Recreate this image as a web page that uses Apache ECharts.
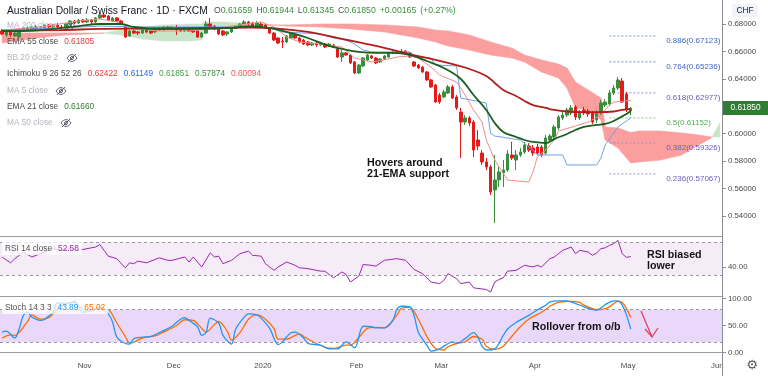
<!DOCTYPE html>
<html lang="en">
<head>
<meta charset="UTF-8">
<title>Australian Dollar / Swiss Franc · 1D · FXCM</title>
<script src="https://cdn.jsdelivr.net/npm/echarts@6.0.0/dist/echarts.min.js"></script>
<style>
  html, body { margin: 0; padding: 0; background: #ffffff; }
  #main { width: 768px; height: 376px; }
</style>
</head>
<body>
<div id="main"></div>
<script>
// daily bars: index 0 = 4 Oct 2019, 148 = 1 May 2020, axis runs on to 169 = 1 Jun 2020
var barCount = 170;
var monthStart = [20, 41, 62, 84, 104, 126, 148, 169];
var monthNames = ['Nov', 'Dec', '2020', 'Feb', 'Mar', 'Apr', 'May', 'Jun'];

var priceTicks = [0.54, 0.56, 0.58, 0.60, 0.62, 0.64, 0.66, 0.68];
var rsiTicks = [40];
var stochTicks = [0, 50, 100];
var rsiBand = [30, 70];
var stochBand = [20, 80];

// open, close, low, high
var candles = [
  [0.6749,0.6727,0.6720,0.6764],[0.6720,0.6742,0.6705,0.6756],[0.6742,0.6720,0.6705,0.6749],[0.6713,0.6734,0.6705,0.6742],
  [0.6705,0.6749,0.6698,0.6756],[0.6749,0.6771,0.6742,0.6778],[0.6771,0.6756,0.6749,0.6785],[0.6756,0.6778,0.6749,0.6785],
  [0.6778,0.6764,0.6756,0.6793],[0.6764,0.6778,0.6756,0.6785],[0.6771,0.6793,0.6764,0.6800],[0.6793,0.6778,0.6771,0.6800],
  [0.6778,0.6793,0.6771,0.6800],[0.6793,0.6778,0.6771,0.6807],[0.6778,0.6771,0.6756,0.6793],[0.6771,0.6800,0.6764,0.6807],
  [0.6800,0.6822,0.6793,0.6829],[0.6822,0.6807,0.6800,0.6829],[0.6807,0.6829,0.6800,0.6836],[0.6829,0.6815,0.6807,0.6836],
  [0.6815,0.6829,0.6807,0.6844],[0.6829,0.6815,0.6800,0.6836],[0.6815,0.6844,0.6807,0.6851],[0.6844,0.6866,0.6836,0.6880],
  [0.6866,0.6851,0.6844,0.6873],[0.6858,0.6829,0.6822,0.6866],[0.6822,0.6844,0.6815,0.6851],[0.6844,0.6822,0.6815,0.6851],
  [0.6822,0.6800,0.6793,0.6829],[0.6793,0.6705,0.6698,0.6800],[0.6713,0.6749,0.6705,0.6756],[0.6749,0.6734,0.6727,0.6756],
  [0.6742,0.6734,0.6720,0.6749],[0.6734,0.6764,0.6727,0.6771],[0.6764,0.6742,0.6734,0.6771],[0.6749,0.6734,0.6727,0.6756],
  [0.6742,0.6764,0.6734,0.6771],[0.6764,0.6756,0.6749,0.6778],[0.6756,0.6778,0.6749,0.6785],[0.6778,0.6764,0.6756,0.6785],
  [0.6764,0.6771,0.6756,0.6785],[0.6771,0.6756,0.6720,0.6793],[0.6764,0.6749,0.6742,0.6771],[0.6749,0.6771,0.6742,0.6778],
  [0.6771,0.6749,0.6742,0.6778],[0.6756,0.6742,0.6734,0.6764],[0.6749,0.6705,0.6698,0.6756],[0.6705,0.6734,0.6698,0.6742],
  [0.6734,0.6800,0.6727,0.6822],[0.6800,0.6778,0.6771,0.6844],[0.6785,0.6764,0.6756,0.6793],[0.6764,0.6727,0.6720,0.6771],
  [0.6749,0.6720,0.6713,0.6756],[0.6727,0.6742,0.6713,0.6749],[0.6742,0.6771,0.6734,0.6778],[0.6771,0.6785,0.6764,0.6793],
  [0.6785,0.6800,0.6778,0.6807],[0.6800,0.6815,0.6793,0.6829],[0.6815,0.6800,0.6793,0.6822],[0.6807,0.6785,0.6778,0.6815],
  [0.6785,0.6807,0.6778,0.6822],[0.6800,0.6785,0.6778,0.6815],[0.6793,0.6771,0.6764,0.6800],[0.6771,0.6734,0.6727,0.6778],
  [0.6734,0.6683,0.6676,0.6742],[0.6698,0.6661,0.6654,0.6705],[0.6676,0.6669,0.6625,0.6705],[0.6669,0.6713,0.6661,0.6720],
  [0.6698,0.6734,0.6691,0.6742],[0.6720,0.6698,0.6691,0.6727],[0.6698,0.6669,0.6661,0.6705],[0.6683,0.6654,0.6647,0.6691],
  [0.6669,0.6647,0.6640,0.6676],[0.6647,0.6661,0.6640,0.6669],[0.6661,0.6647,0.6632,0.6669],[0.6647,0.6661,0.6640,0.6669],
  [0.6654,0.6632,0.6625,0.6661],[0.6640,0.6654,0.6632,0.6661],[0.6647,0.6632,0.6625,0.6654],[0.6618,0.6559,0.6552,0.6625],
  [0.6559,0.6589,0.6523,0.6610],[0.6589,0.6574,0.6567,0.6596],[0.6574,0.6516,0.6508,0.6581],[0.6523,0.6443,0.6435,0.6530],
  [0.6443,0.6501,0.6435,0.6508],[0.6494,0.6552,0.6486,0.6559],[0.6538,0.6574,0.6530,0.6581],[0.6567,0.6552,0.6545,0.6574],
  [0.6552,0.6516,0.6508,0.6559],[0.6523,0.6545,0.6516,0.6552],[0.6545,0.6567,0.6538,0.6574],[0.6559,0.6589,0.6552,0.6596],
  [0.6589,0.6596,0.6581,0.6610],[0.6596,0.6589,0.6581,0.6610],[0.6589,0.6603,0.6581,0.6618],[0.6603,0.6589,0.6574,0.6610],
  [0.6589,0.6559,0.6552,0.6596],[0.6523,0.6494,0.6486,0.6530],[0.6501,0.6479,0.6472,0.6508],[0.6486,0.6450,0.6443,0.6494],
  [0.6450,0.6392,0.6384,0.6457],[0.6392,0.6341,0.6333,0.6399],[0.6355,0.6231,0.6224,0.6362],[0.6282,0.6231,0.6217,0.6297],
  [0.6268,0.6304,0.6260,0.6319],[0.6297,0.6341,0.6290,0.6355],[0.6341,0.6260,0.6253,0.6355],[0.6268,0.6188,0.6173,0.6282],
  [0.6158,0.6085,0.5823,0.6188],[0.6085,0.6115,0.6064,0.6136],[0.6115,0.6078,0.6056,0.6129],[0.6085,0.5881,0.5830,0.6100],
  [0.5954,0.5910,0.5881,0.6027],[0.5859,0.5794,0.5772,0.5881],[0.5794,0.5757,0.5735,0.5823],[0.5757,0.5575,0.5553,0.5772],
  [0.5590,0.5663,0.5349,0.5845],[0.5663,0.5721,0.5611,0.5757],[0.5714,0.5735,0.5611,0.5808],[0.5735,0.5852,0.5721,0.5881],
  [0.5845,0.5823,0.5808,0.5940],[0.5808,0.5845,0.5735,0.5881],[0.5845,0.5867,0.5830,0.5896],[0.5867,0.5918,0.5852,0.5940],
  [0.5910,0.5881,0.5867,0.5932],[0.5896,0.5859,0.5838,0.5918],[0.5903,0.5859,0.5845,0.5925],[0.5903,0.5845,0.5830,0.5918],
  [0.5859,0.5969,0.5845,0.5991],[0.5954,0.5983,0.5940,0.5998],[0.5976,0.6049,0.5961,0.6064],[0.6042,0.6122,0.6027,0.6136],
  [0.6115,0.6136,0.6100,0.6158],[0.6136,0.6173,0.6122,0.6188],[0.6151,0.6188,0.6136,0.6209],[0.6195,0.6122,0.6100,0.6209],
  [0.6115,0.6158,0.6100,0.6173],[0.6173,0.6151,0.6136,0.6195],[0.6166,0.6144,0.6122,0.6180],[0.6151,0.6085,0.6071,0.6166],
  [0.6100,0.6151,0.6078,0.6173],[0.6151,0.6224,0.6136,0.6246],[0.6209,0.6231,0.6195,0.6253],[0.6217,0.6297,0.6202,0.6319],
  [0.6297,0.6333,0.6282,0.6355],[0.6333,0.6392,0.6319,0.6413],[0.6384,0.6231,0.6224,0.6406],[0.6290,0.6173,0.6158,0.6304],
  [0.61659,0.61850,0.61345,0.61944]
];

// [bar, value]
var ema21 = [[0,0.6749],[9,0.6756],[18,0.6785],[23,0.6800],[28,0.6800],[31,0.6778],[37,0.6764],[47,0.6764],[54,0.6771],
  [58,0.6785],[63,0.6771],[68,0.6734],[72,0.6698],[77,0.6640],[80,0.6618],[84,0.6596],[88,0.6589],[92,0.6589],[96,0.6574],
  [100,0.6530],[104,0.6479],[108,0.6399],[111,0.6282],[114,0.6173],[116,0.6078],[118,0.6013],[121,0.5976],[123,0.5954],
  [125,0.5940],[128,0.5932],[130,0.5961],[133,0.5998],[135,0.6027],[137,0.6049],[140,0.6064],[142,0.6071],[144,0.6093],
  [147,0.6144],[148,0.61660]];
var ema55 = [[0,0.6749],[14,0.6756],[23,0.6764],[35,0.6767],[47,0.6771],[58,0.6774],[65,0.6767],[72,0.6742],[80,0.6691],
  [88,0.6640],[96,0.6581],[104,0.6523],[110,0.6472],[114,0.6421],[116,0.6370],[118,0.6319],[121,0.6275],[123,0.6239],
  [125,0.6209],[128,0.6188],[130,0.6173],[133,0.6162],[137,0.6158],[140,0.6158],[144,0.6162],[146,0.6173],[148,0.61805]];
var tenkan = [[0,0.6756],[9,0.6778],[18,0.6822],[23,0.6836],[27,0.6815],[30,0.6771],[37,0.6749],[44,0.6749],[50,0.6771],
  [56,0.6793],[61,0.6815],[64,0.6778],[67,0.6705],[70,0.6669],[75,0.6654],[80,0.6632],[83,0.6552],[87,0.6523],[90,0.6538],
  [93,0.6559],[96,0.6567],[98,0.6552],[101,0.6486],[103,0.6428],[107,0.6377],[108,0.6333],[109,0.6282],[111,0.6173],
  [113,0.6085],[114,0.5954],[116,0.5808],[117,0.5757],[119,0.5662],[124,0.5648],[125,0.5721],[126,0.5830],[128,0.5881],
  [130,0.5954],[131,0.6020],[135,0.6056],[138,0.6085],[141,0.6136],[143,0.6209],[144,0.6231],[148,0.62422]];
var kijun = [[0,0.6756],[14,0.6771],[23,0.6785],[32,0.6778],[47,0.6778],[58,0.6778],[63,0.6771],[66,0.6742],[75,0.6727],
  [78,0.6698],[81,0.6683],[83,0.6654],[85,0.6610],[87,0.6596],[96,0.6596],[97,0.6559],[101,0.6552],[102,0.6501],[107,0.6494],
  [108,0.6260],[114,0.6224],[115,0.6005],[116,0.5983],[122,0.5954],[125,0.5881],[126,0.5845],[132,0.5845],[133,0.5772],
  [140,0.5772],[141,0.5823],[142,0.5918],[144,0.6005],[145,0.6049],[147,0.6093],[148,0.61149]];

// cloud edges as drawn (already shifted 26 bars ahead)
var cloudIdx = [0,5,10,15,20,24,28,33,38,44,47,48,52,56,60,63,67,75,82,90,98,102,105,110,115,120,123,127,131,133,
  135,138,141,142,145,148,150,155,160,164,167,169];
var leadA = [0.6661,0.6683,0.6705,0.6720,0.6727,0.6734,0.6756,0.6778,0.6793,0.6800,0.6800,0.6815,0.6815,0.6807,0.6800,
  0.6793,0.6785,0.6778,0.6764,0.6742,0.6698,0.6669,0.6640,0.6610,0.6574,0.6552,0.6523,0.6450,0.6406,0.6333,0.6188,0.6173,
  0.6100,0.5954,0.5896,0.5787,0.5794,0.5808,0.5845,0.5918,0.5969,0.6078];
var leadB = [0.6742,0.6734,0.6734,0.6734,0.6734,0.6734,0.6720,0.6691,0.6676,0.6676,0.6683,0.6756,0.6771,0.6785,0.6793,
  0.6793,0.6793,0.6800,0.6800,0.6793,0.6778,0.6756,0.6749,0.6720,0.6669,0.6625,0.6574,0.6538,0.6508,0.6479,0.6377,0.6319,
  0.6260,0.6049,0.6042,0.6009,0.6020,0.6020,0.6005,0.5991,0.5976,0.5976];

var fibRatio = ['0.886', '0.764', '0.618', '0.5', '0.382', '0.236'];
var fibPrice = [0.67123, 0.65236, 0.62977, 0.61152, 0.59326, 0.57067];
var fibFrom = 143, fibTo = 154;

var rsi = [[0,52],[2,45],[3,50],[5,58],[7,52],[10,58],[12,62],[14,60],[16,62],[18,60],[22,64],[23,67],[24,60],[25,53],
  [27,50],[29,39],[30,45],[31,44],[32,47],[34,45],[36,49],[37,51],[39,48],[40,48],[43,52],[44,46],[45,52],[47,40],[49,57],
  [50,52],[51,53],[52,44],[54,48],[56,56],[58,59],[59,54],[61,53],[62,44],[64,36],[65,40],[67,46],[69,42],[70,39],[72,38],
  [75,35],[76,35],[78,27],[80,34],[81,31],[82,22],[84,29],[85,43],[87,42],[88,41],[90,48],[93,50],[95,48],[97,37],[99,32],
  [101,22],[103,20],[104,24],[105,32],[107,26],[108,20],[110,22],[111,15],[114,13],[115,10],[116,22],[117,25],[118,27],
  [119,35],[121,36],[123,42],[125,40],[126,42],[127,40],[129,50],[130,52],[132,60],[133,62],[134,64],[135,56],[136,60],
  [137,59],[138,58],[139,54],[140,57],[141,62],[142,63],[143,66],[144,68],[145,72],[146,56],[147,51.5],[148,52.58]];
var stochK = [[0,38],[1,40],[3,27],[4,44],[5,69],[6,75],[7,66],[9,60],[10,62],[12,75],[13,92],[15,91],[17,95],[19,75],
  [21,78],[23,85],[25,72],[26,57],[27,29],[29,17],[30,16],[31,26],[32,28],[35,30],[37,37],[40,49],[42,62],[43,65],[44,60],
  [46,48],[47,32],[48,37],[49,64],[51,55],[52,32],[54,16],[55,44],[57,66],[58,72],[60,70],[61,64],[63,45],[65,15],[66,20],
  [68,37],[69,38],[71,27],[72,17],[75,14],[77,7],[79,7],[81,20],[83,9],[85,49],[87,48],[88,46],[90,46],[92,60],[93,81],
  [94,86],[96,85],[97,69],[98,38],[100,14],[101,3],[103,7],[105,17],[106,20],[107,17],[109,26],[111,37],[112,29],[113,12],
  [114,5],[116,7],[118,32],[119,44],[121,56],[124,69],[126,79],[128,88],[129,94],[131,96],[133,96],[135,91],[137,85],
  [138,82],[140,79],[142,89],[144,96],[145,96],[146,88],[147,70],[148,43.89]];
var stochD = [[0,27],[2,33],[3,32],[6,58],[7,70],[9,62],[11,65],[13,80],[15,90],[17,93],[19,80],[21,77],[23,82],[25,80],
  [27,55],[29,30],[30,18],[31,19],[33,27],[36,31],[38,38],[41,50],[43,61],[45,60],[47,45],[48,38],[50,52],[51,58],[53,40],
  [54,23],[56,37],[58,62],[60,70],[62,62],[64,45],[65,25],[67,25],[70,35],[71,30],[74,17],[76,10],[78,8],[81,14],[82,14],
  [84,28],[86,45],[88,47],[90,46],[93,70],[94,82],[96,84],[98,62],[100,30],[102,8],[104,5],[105,11],[107,17],[109,20],
  [111,30],[113,25],[114,12],[116,6],[118,12],[120,30],[122,48],[124,62],[127,75],[129,86],[131,93],[134,95],[136,93],
  [137,88],[140,80],[141,80],[143,85],[145,95],[146,93],[147,82],[148,65.02]];

var lastOHLC = ['0.61659', '0.61944', '0.61345', '0.61850'];
var lastChange = ['+0.00165', '(+0.27%)'];
var emaLast = ['0.61805', '0.61660'];
var ichiLast = ['0.62422', '0.61149', '0.61851', '0.57874', '0.60094'];
var rsiLast = '52.58';
var stochLast = ['43.89', '65.02'];

var FONT = '"Liberation Sans", Arial, sans-serif';
var UP = '#388E3C', DOWN = '#E41B1B';
var fibLine = ['#7C95DA', '#7C95DA', '#9A8FD3', '#8CC48E', '#9A8FD3', '#9A8FD3'];
var fibText = ['#3F65C8', '#3F65C8', '#6B5DC4', '#4CAF50', '#6B5DC4', '#6B5DC4'];

var chart = echarts.init(document.getElementById('main'));

var categories = [];
for (var i = 0; i < barCount; i++) categories.push(i);

var cloudData = [];
for (var k = 0; k < cloudIdx.length - 1; k++) {
  cloudData.push([cloudIdx[k], leadA[k], leadB[k], cloudIdx[k + 1], leadA[k + 1], leadB[k + 1]]);
}

// parts: [text, colour, leftPadding]
function row(x, y, parts, size, gap) {
  var rich = {}, text = '';
  parts.forEach(function (p, n) {
    var pad = p[2] !== undefined ? p[2] : (n ? gap : 0);
    rich['p' + n] = { fill: p[1], fontSize: size, fontFamily: FONT, padding: [0, 0, 0, pad] };
    text += '{p' + n + '|' + p[0] + '}';
  });
  return { type: 'text', x: x, y: y, z: 100, silent: true,
    style: { text: text, rich: rich, verticalAlign: 'middle', fontSize: size, fontFamily: FONT } };
}

function eyeOff(cx, cy) {
  var st = { stroke: '#5d606b', lineWidth: 1, fill: null };
  return { type: 'group', x: cx, y: cy, z: 100, silent: true, children: [
    { type: 'bezierCurve', shape: { x1: -5, y1: 0, x2: 5, y2: 0, cpx1: -2, cpy1: -4.5, cpx2: 2, cpy2: -4.5 }, style: st },
    { type: 'bezierCurve', shape: { x1: -5, y1: 0, x2: 5, y2: 0, cpx1: -2, cpy1: 4.5, cpx2: 2, cpy2: 4.5 }, style: st },
    { type: 'circle', shape: { cx: 0, cy: 0, r: 1.5 }, style: st },
    { type: 'line', shape: { x1: -4, y1: 4, x2: 4, y2: -4 }, style: st }
  ] };
}

var FADED = '#B2B5BE', TXT = '#4A4A4A';

var graphic = [
  { type: 'line', z: 90, silent: true, shape: { x1: 722.5, y1: 0, x2: 722.5, y2: 376 }, style: { stroke: '#8A8D96', lineWidth: 1 } },
  row(7, 11, [['Australian Dollar / Swiss Franc · 1D · FXCM', '#131722']], 10.3, 0),
  row(214, 11, [['O', TXT, 0], [lastOHLC[0], UP, 0], ['H', TXT, 4], [lastOHLC[1], UP, 0], ['L', TXT, 4], [lastOHLC[2], UP, 0],
    ['C', TXT, 4], [lastOHLC[3], UP, 0], [lastChange[0], UP, 4], [lastChange[1], UP, 4]], 8.7, 0),
  row(7, 26, [['MA 200 close', FADED]], 8.3, 0),
  eyeOff(70, 26),
  row(7, 42, [['EMA 55 close', TXT], [emaLast[0], '#E53935']], 8.3, 6),
  row(7, 58, [['BB 20 close 2', FADED]], 8.3, 0),
  eyeOff(72, 58),
  row(7, 74, [['Ichimoku 9 26 52 26', TXT], [ichiLast[0], '#E53935'], [ichiLast[1], '#2962FF'], [ichiLast[2], '#43A047'],
    [ichiLast[3], '#388E3C'], [ichiLast[4], '#FF5252']], 8.3, 6),
  row(7, 91, [['MA 5 close', FADED]], 8.3, 0),
  eyeOff(61, 91),
  row(7, 107, [['EMA 21 close', TXT], [emaLast[1], '#2E7D32']], 8.3, 6),
  row(7, 123, [['MA 50 close', FADED]], 8.3, 0),
  eyeOff(66, 123),

  { type: 'rect', z: 95, silent: true, shape: { x: 2, y: 242, width: 80, height: 13 }, style: { fill: 'rgba(255,255,255,0.75)' } },
  row(5, 248.5, [['RSI 14 close', '#555'], [rsiLast, '#9C27B0']], 8.3, 6),
  { type: 'rect', z: 95, silent: true, shape: { x: 2, y: 301, width: 106, height: 13 }, style: { fill: 'rgba(255,255,255,0.75)' } },
  row(5, 307.7, [['Stoch 14 3 3', '#555'], [stochLast[0], '#2196F3'], [stochLast[1], '#FF6D00']], 8.3, 6),

  { type: 'rect', z: 95, silent: true, shape: { x: 732, y: 4, width: 26, height: 13, r: 2 }, style: { fill: '#F0F3FA' } },
  { type: 'text', z: 100, silent: true, x: 745, y: 10.5, style: { text: 'CHF', fill: '#131722', fontSize: 8.3, fontFamily: FONT, align: 'center', verticalAlign: 'middle' } },
  { type: 'rect', z: 95, silent: true, shape: { x: 723, y: 101, width: 45, height: 14 }, style: { fill: '#2E7D32' } },
  { type: 'text', z: 100, silent: true, x: 745.5, y: 108, style: { text: lastOHLC[3], fill: '#ffffff', fontSize: 8.3, fontFamily: FONT, align: 'center', verticalAlign: 'middle' } },
  { type: 'text', z: 100, silent: true, x: 752, y: 366, style: { text: '\u2699', fill: '#555', fontSize: 13, fontFamily: '"DejaVu Sans"', align: 'center', verticalAlign: 'middle' } },

  { type: 'text', z: 100, silent: true, x: 367, y: 158, style: { text: 'Hovers around\n21-EMA support', fill: '#131313', fontSize: 10.7, fontWeight: 'bold', fontFamily: FONT, lineHeight: 11, verticalAlign: 'top' } },
  { type: 'text', z: 100, silent: true, x: 647, y: 250, style: { text: 'RSI biased\nlower', fill: '#131313', fontSize: 10.7, fontWeight: 'bold', fontFamily: FONT, lineHeight: 10.5, verticalAlign: 'top' } },
  { type: 'text', z: 100, silent: true, x: 532, y: 327, style: { text: 'Rollover from o/b', fill: '#131313', fontSize: 10.7, fontWeight: 'bold', fontFamily: FONT, verticalAlign: 'middle' } },
  { type: 'polyline', z: 100, silent: true, shape: { points: [[641, 311], [652, 337]] }, style: { stroke: '#E0435A', lineWidth: 1.3, fill: null } },
  { type: 'polyline', z: 100, silent: true, shape: { points: [[645, 329], [652, 337], [658, 328]] }, style: { stroke: '#E0435A', lineWidth: 1.3, fill: null } }
];

function hiddenX(grid) {
  return { type: 'category', gridIndex: grid, data: categories, boundaryGap: true,
    axisLine: { show: true, lineStyle: { color: '#9A9DA6', width: 1 } },
    axisTick: { show: false }, axisLabel: { show: false }, splitLine: { show: false } };
}

var bottomX = hiddenX(2);
bottomX.axisLabel = {
  show: true, color: '#4A4A4A', fontSize: 7.8, fontFamily: FONT, margin: 7, padding: [0, 5, 0, 0],
  interval: function (index) { return monthStart.indexOf(index) >= 0; },
  formatter: function (v, index) { return monthNames[monthStart.indexOf(index)] || ''; }
};

function rightY(grid, min, max, ticks, digits) {
  return { type: 'value', gridIndex: grid, position: 'right', min: min, max: max, scale: true,
    axisLine: { show: false },
    axisTick: { show: true, length: 4, customValues: ticks, lineStyle: { color: '#8A8D96' } },
    axisLabel: { show: true, customValues: ticks, color: '#4A4A4A', fontSize: 7.8, fontFamily: FONT, margin: 6,
      formatter: function (v) { return v.toFixed(digits); } },
    splitLine: { show: false } };
}

var series = [
  {
    type: 'custom', name: 'cloud', xAxisIndex: 0, yAxisIndex: 0, z: 1, silent: true, clip: true,
    encode: { x: [0, 3], y: [1, 2, 4, 5] },
    data: cloudData,
    renderItem: function (params, api) {
      var a0 = api.value(1), b0 = api.value(2), a1 = api.value(4), b1 = api.value(5);
      var pts = [api.coord([api.value(0), a0]), api.coord([api.value(3), a1]),
                 api.coord([api.value(3), b1]), api.coord([api.value(0), b0])];
      var fill = (a0 + a1 >= b0 + b1) ? '#C8E5C9' : '#FA9E9E';
      return { type: 'polygon', shape: { points: pts }, style: { fill: fill, stroke: fill, lineWidth: 0.6 } };
    }
  },
  {
    type: 'candlestick', name: 'AUDCHF', xAxisIndex: 0, yAxisIndex: 0, z: 3, barWidth: 3,
    data: candles,
    itemStyle: { color: UP, color0: DOWN, borderColor: UP, borderColor0: DOWN, borderWidth: 1 }
  },
  { type: 'line', name: 'Conversion', xAxisIndex: 0, yAxisIndex: 0, z: 4, data: tenkan, symbol: 'none',
    lineStyle: { color: '#F08C8C', width: 1 } },
  { type: 'line', name: 'Base', xAxisIndex: 0, yAxisIndex: 0, z: 4, data: kijun, symbol: 'none',
    lineStyle: { color: '#729FE4', width: 1 } },
  { type: 'line', name: 'EMA 55', xAxisIndex: 0, yAxisIndex: 0, z: 5, data: ema55, symbol: 'none', smooth: 0.4,
    lineStyle: { color: '#B71C1C', width: 1.8 } },
  { type: 'line', name: 'EMA 21', xAxisIndex: 0, yAxisIndex: 0, z: 5, data: ema21, symbol: 'none', smooth: 0.4,
    lineStyle: { color: '#1B5E20', width: 1.8 } },
  {
    type: 'line', name: 'RSI', xAxisIndex: 1, yAxisIndex: 1, data: rsi, symbol: 'none', z: 4,
    lineStyle: { color: '#9C27B0', width: 1 },
    markArea: { silent: true, itemStyle: { color: 'rgba(156,39,176,0.09)' }, data: [[{ yAxis: rsiBand[0] }, { yAxis: rsiBand[1] }]] },
    markLine: { silent: true, symbol: 'none', label: { show: false }, animation: false,
      lineStyle: { color: '#9598A1', type: [3, 3], width: 1 }, data: rsiBand.map(function (v) { return { yAxis: v }; }) }
  },
  {
    type: 'line', name: '%K', xAxisIndex: 2, yAxisIndex: 2, data: stochK, symbol: 'none', smooth: 0.3, z: 5,
    lineStyle: { color: '#2196F3', width: 1.3 },
    markArea: { silent: true, itemStyle: { color: 'rgba(149,60,230,0.2)' }, data: [[{ yAxis: stochBand[0] }, { yAxis: stochBand[1] }]] },
    markLine: { silent: true, symbol: 'none', label: { show: false }, animation: false,
      lineStyle: { color: '#9598A1', type: [3, 3], width: 1 }, data: stochBand.map(function (v) { return { yAxis: v }; }) }
  },
  { type: 'line', name: '%D', xAxisIndex: 2, yAxisIndex: 2, data: stochD, symbol: 'none', smooth: 0.3, z: 4,
    lineStyle: { color: '#FF6D00', width: 1.3 } }
];

fibPrice.forEach(function (p, n) {
  series.push({
    type: 'line', name: 'fib ' + fibRatio[n], xAxisIndex: 0, yAxisIndex: 0, z: 2, silent: true, symbol: 'none',
    data: [[fibFrom, p], [fibTo, p]],
    lineStyle: { color: fibLine[n], width: 1, type: [2, 2] },
    endLabel: { show: true, formatter: fibRatio[n] + '(' + p.toFixed(5) + ')', color: fibText[n],
      fontSize: 8, fontFamily: FONT, offset: [2, 5] }
  });
});

var option = {
  animation: false,
  backgroundColor: '#ffffff',
  grid: [
    { left: 0, right: 46, top: 0, height: 236 },
    { left: 0, right: 46, top: 236, height: 60 },
    { left: 0, right: 46, top: 296, height: 59 }
  ],
  xAxis: [hiddenX(0), hiddenX(1), bottomX],
  yAxis: [
    rightY(0, 0.5254, 0.6975, priceTicks, 5),
    rightY(1, 5.2, 77.2, rsiTicks, 2),
    rightY(2, -4.3, 105, stochTicks, 2)
  ],
  series: series,
  graphic: graphic
};

chart.setOption(option);
</script>
</body>
</html>
